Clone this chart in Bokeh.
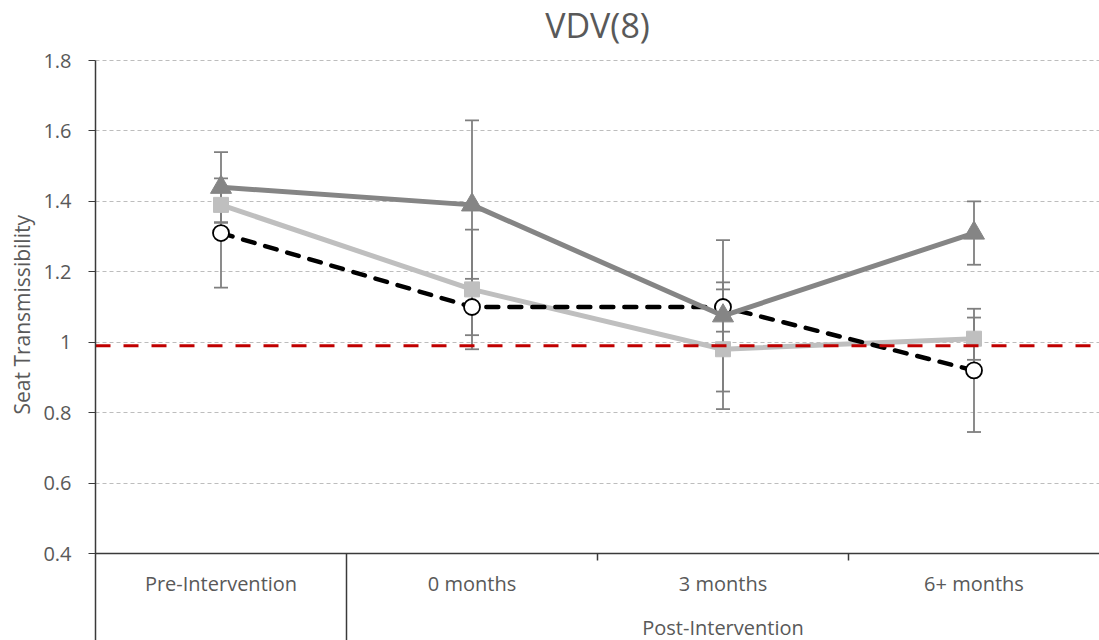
from bokeh.plotting import figure
from bokeh.models import (Range1d, LinearAxis, FixedTicker, Whisker, TeeHead,
                          ColumnDataSource, Grid, Title)
from bokeh.core.properties import value
from bokeh.embed import file_html
from bokeh.resources import INLINE

# ---- data ----
categories = ["Pre-Intervention", "0 months", "3 months", "6+ months"]
group_label = "Post-Intervention"
group_members = ["0 months", "3 months", "6+ months"]

tri_vals = [1.44, 1.39, 1.075, 1.31]
tri_err = [0.10, 0.24, 0.215, 0.09]
sq_vals = [1.39, 1.15, 0.98, 1.01]
sq_err = [0.05, 0.17, 0.17, 0.06]
circ_vals = [1.31, 1.10, 1.10, 0.92]
circ_err = [0.155, 0.08, 0.07, 0.175]

reference_level = 0.99
y_ticks = [0.4, 0.6, 0.8, 1.0, 1.2, 1.4, 1.6, 1.8]
title_text = "VDV(8)"
y_title = "Seat Transmissibility"

# ---- layout helpers ----
W, H = 1099, 640
LEFT = 95
TOP_PX = 60            # pixel row of the top tick
px_per_unit = 493 / 1.4
y_min_axis = y_ticks[0]
y_end = y_ticks[-1] + TOP_PX / px_per_unit
y_start = y_end - H / px_per_unit

xc = [i + 0.5 for i in range(len(categories))]
FONT = "Open Sans"
TXT = "#595959"

p = figure(width=W, height=H, output_backend="svg", toolbar_location=None,
           x_range=Range1d(0, len(categories)), y_range=Range1d(y_start, y_end),
           min_border_left=LEFT, min_border_right=0, min_border_top=0,
           min_border_bottom=0, x_axis_type=None, y_axis_type=None)
p.outline_line_color = None
p.background_fill_color = "white"
p.border_fill_color = "white"

# y axis
AX = "#3a3a3a"
yaxis = LinearAxis(ticker=FixedTicker(ticks=y_ticks), bounds=(y_start, y_ticks[-1]))
yaxis.major_label_overrides = {t: ("1" if t == 1.0 else f"{t:.1f}") for t in y_ticks}
yaxis.axis_line_color = AX
yaxis.axis_line_width = 1.5
yaxis.major_tick_line_color = AX
yaxis.major_tick_out = 7
yaxis.major_tick_in = 0
yaxis.minor_tick_line_color = None
yaxis.major_label_text_font = FONT
yaxis.major_label_text_font_size = "20px"
yaxis.major_label_text_color = TXT
yaxis.major_label_standoff = 17
p.add_layout(yaxis, "left")

# y axis title (left panel), placed along the value range
ytitle = Title(text=y_title, align="left", text_font=FONT, text_font_size="21px",
               text_font_style="normal", text_color=TXT,
               offset=H - 414, standoff=9)
p.add_layout(ytitle, "left")

# chart title drawn in the top band of the plot area
p.text(x=[len(categories) / 2], y=[y_end - 24 / px_per_unit], text=[title_text],
       text_font=value(FONT), text_font_size="34px", text_color=TXT,
       text_align="center", text_baseline="middle")

# gridlines (dashed)
grid = Grid(dimension=1, ticker=FixedTicker(ticks=y_ticks[1:]))
grid.grid_line_color = "#bdbdbd"
grid.grid_line_dash = "4 3"
grid.grid_line_width = 1
p.add_layout(grid)

# category axis structure
p.segment(x0=[0], y0=[y_min_axis], x1=[len(categories)], y1=[y_min_axis],
          line_color=AX, line_width=1.5)
p.segment(x0=[1], y0=[y_start], x1=[1], y1=[y_min_axis], line_color=AX, line_width=1.5)
tick_len = 7 / px_per_unit
p.segment(x0=[2, 3], y0=[y_min_axis - tick_len] * 2, x1=[2, 3], y1=[y_min_axis] * 2,
          line_color=AX, line_width=1.5)

cat_y = y_min_axis - 30 / px_per_unit
grp_y = y_min_axis - 74 / px_per_unit
p.text(x=xc, y=[cat_y] * len(categories), text=categories,
       text_font=value(FONT), text_font_size="20px", text_color=TXT,
       text_align="center", text_baseline="middle")
gx = sum(xc[categories.index(c)] for c in group_members) / len(group_members)
p.text(x=[gx], y=[grp_y], text=[group_label],
       text_font=value(FONT), text_font_size="20px", text_color=TXT,
       text_align="center", text_baseline="middle")

# error bars
ERR = "#7f7f7f"
for vals, errs in [(sq_vals, sq_err), (circ_vals, circ_err), (tri_vals, tri_err)]:
    src = ColumnDataSource(dict(x=xc, lo=[v - e for v, e in zip(vals, errs)],
                                hi=[v + e for v, e in zip(vals, errs)]))
    w = Whisker(base="x", lower="lo", upper="hi", source=src,
                line_color=ERR, line_width=1.8,
                upper_head=TeeHead(size=14, line_color=ERR, line_width=1.8),
                lower_head=TeeHead(size=14, line_color=ERR, line_width=1.8))
    p.add_layout(w)

# series
SQ = "#bfbfbf"
TRI = "#858585"
p.line(xc, sq_vals, line_color=SQ, line_width=5)
p.scatter(xc, sq_vals, marker="square", size=15, fill_color=SQ, line_color=SQ)

p.line(xc, circ_vals, line_color="black", line_width=4.5, line_dash="12 11",
       line_cap="round")
p.scatter(xc, circ_vals, marker="circle", size=16, fill_color="white",
          line_color="black", line_width=1.8)

p.line(xc, tri_vals, line_color=TRI, line_width=5)
p.scatter(xc, tri_vals, marker="triangle", size=21, fill_color=TRI, line_color=TRI)

# reference line
p.segment(x0=[0], y0=[reference_level], x1=[len(categories)], y1=[reference_level],
          line_color="#c00000", line_width=3, line_dash="15 13")

open("out.html", "w").write(file_html(p, INLINE))
